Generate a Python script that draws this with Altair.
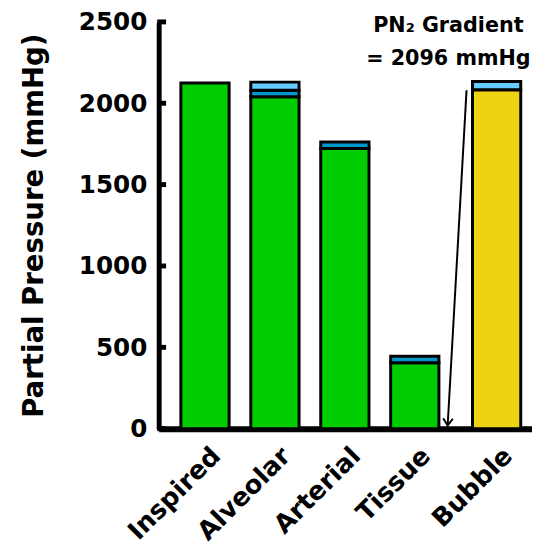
import altair as alt
import pandas as pd

# ---------------- data ----------------
categories = ["Inspired", "Alveolar", "Arterial", "Tissue", "Bubble"]
gases = ["N2", "CO2", "H2O", "N2 bubble"]
gas_colors = ["#00CC00", "#0099CC", "#66CCFF", "#EED312"]

n2_values = [2125, 2040, 1722, 405, 0]
co2_values = [0, 40, 40, 40, 0]
h2o_values = [0, 50, 0, 0, 52]
bubble_n2_values = [0, 0, 0, 0, 2082]

y_ticks = [0, 500, 1000, 1500, 2000, 2500]

annotation_lines = ["PN\u2082 Gradient", "= 2096 mmHg"]
gradient_from_value = 2080   # top of bubble N2
gradient_to_value = 20       # tissue baseline

# ---------------- layout ----------------
FONT = "DejaVu Sans"
W, H = 379, 413
STEP = 71.0                      # px between neighbouring bars
BUBBLE_GAP = 0.17                # extra separation before the bubble bar
HALF = 0.345                     # half bar width, in slots
lo = -47 / STEP
hi = lo + W / STEP
xscale = alt.Scale(domain=[lo, hi], nice=False, zero=False)
yscale = alt.Scale(domain=[0, 2500], nice=False)

slots = [i + (BUBBLE_GAP if c == "Bubble" else 0) for i, c in enumerate(categories)]

rows = []
for i, cat in enumerate(categories):
    for gi, series in enumerate([n2_values, co2_values, h2o_values, bubble_n2_values]):
        v = series[i]
        if v > 0:
            rows.append({"category": cat, "slot": slots[i], "gas": gases[gi], "value": v,
                         "idx": gi if gi < 3 else -1})
df = pd.DataFrame(rows)

label_expr = "[" + ",".join(f"'{c}'" for c in categories) + "][round(datum.value)]"

bars = alt.Chart(df).transform_stack(
    stack="value", groupby=["category"], as_=["y0", "y1"],
    sort=[alt.SortField("idx", order="ascending")],
).transform_calculate(
    xa=f"datum.slot - {HALF}", xb=f"datum.slot + {HALF}",
).mark_bar(stroke="black", strokeWidth=3).encode(
    x=alt.X("xa:Q", scale=xscale,
            axis=alt.Axis(title=None, values=slots, labelExpr=label_expr,
                          labelAngle=-45, labelFont=FONT, labelFontSize=26,
                          labelFontWeight="bold", labelColor="black", ticks=False,
                          tickSize=0, labelOverlap=False, labelFlush=False,
                          labelBound=False, grid=False,
                          domainWidth=6, domainColor="black", labelPadding=14,
                          labelOffset=2)),
    x2="xb:Q",
    y=alt.Y("y0:Q", scale=yscale,
            axis=alt.Axis(values=y_ticks, format="d", title="Partial Pressure (mmHg)",
                          grid=False, labelFont=FONT, labelFontSize=25,
                          labelFontWeight="bold", labelColor="black", ticks=False,
                          tickSize=0, labelPadding=12,
                          domainWidth=5, domainColor="black",
                          titleFont=FONT, titleFontSize=28, titleFontWeight="bold",
                          titleColor="black", titleX=-118, titleBaseline="alphabetic")),
    y2="y1:Q",
    color=alt.Color("gas:N", scale=alt.Scale(domain=gases, range=gas_colors), legend=None),
)

ticks = alt.Chart(pd.DataFrame({"tick": y_ticks})).mark_tick(
    color="black", orient="horizontal", size=9, thickness=5, opacity=1,
).encode(
    y=alt.Y("tick:Q", scale=yscale),
    x=alt.value(3),
)

# annotation
ann_x = 3.48
ann_df = pd.DataFrame({"text": annotation_lines, "x": [ann_x, ann_x], "y": [2439, 2234]})
ann = alt.Chart(ann_df).mark_text(font=FONT, fontSize=21, fontWeight="bold",
                                  align="center", baseline="alphabetic", color="black").encode(
    x=alt.X("x:Q", scale=xscale),
    y=alt.Y("y:Q", scale=yscale),
    text="text:N",
)

arrow_df = pd.DataFrame({"x0": [3.74], "y0": [gradient_from_value],
                         "x1": [3.47], "y1": [gradient_to_value]})
arrow_line = alt.Chart(arrow_df).mark_rule(color="black", strokeWidth=2).encode(
    x=alt.X("x0:Q", scale=xscale),
    y=alt.Y("y0:Q", scale=yscale),
    x2="x1:Q", y2="y1:Q",
)
arrow_head = alt.Chart(arrow_df).mark_point(
    shape="M-0.7,-1L0,0L0.7,-1", filled=False, size=200, strokeWidth=2,
    color="black", opacity=1, angle=3,
).encode(
    x=alt.X("x1:Q", scale=xscale),
    y=alt.Y("y1:Q", scale=yscale),
)

chart = alt.layer(bars, ticks, ann, arrow_line, arrow_head).properties(
    width=W, height=H,
    autosize=alt.AutoSizeParams(type="none"),
    padding={"left": 153, "top": 10, "right": 0, "bottom": 116},
    background="white",
).configure_view(stroke=None)

chart.save("out.html", embed_options={"renderer": "svg", "actions": False})
